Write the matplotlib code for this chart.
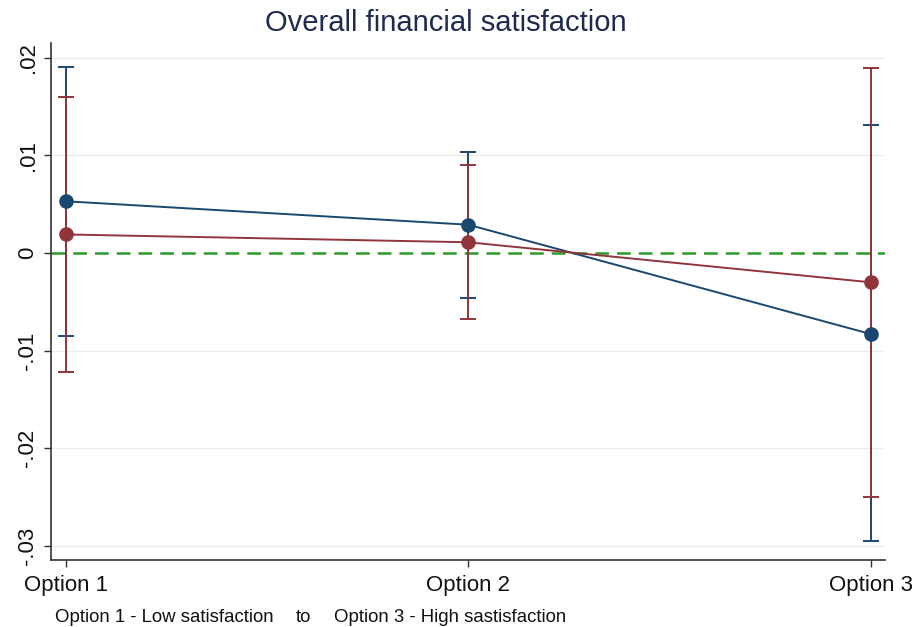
import matplotlib
matplotlib.use("Agg")
import matplotlib.pyplot as plt
import numpy as np

plt.rcParams['font.family'] = ['Liberation Sans', 'DejaVu Sans']

# Data
options = ["Option 1", "Option 2", "Option 3"]
blue_est = [0.0053, 0.0029, -0.0083]
blue_lo = [-0.0085, -0.0046, -0.0295]
blue_hi = [0.0191, 0.0104, 0.0131]
red_est = [0.0019, 0.0011, -0.0030]
red_lo = [-0.0122, -0.0068, -0.0250]
red_hi = [0.0160, 0.0090, 0.0190]
yticks = [0.02, 0.01, 0.0, -0.01, -0.02, -0.03]
ytick_labels = [".02", ".01", "0", "-.01", "-.02", "-.03"]

navy = "#1a476f"
maroon = "#90353b"
green = "#2a9a2a"

W, H = 915, 627
fig = plt.figure(figsize=(W / 100, H / 100), dpi=100)
ax = fig.add_axes([51 / W, 1 - 560 / H, (885 - 51) / W, (560 - 43) / H])

x = np.arange(1, len(options) + 1)

for yv in yticks:
    if yv != 0:
        ax.axhline(yv, color="#ececec", lw=1.0, zorder=0)
ax.axhline(0, color=green, lw=1.8, ls=(0, (5.5, 3.2)), zorder=1)

def ci(est, lo, hi, color, z):
    est = np.array(est)
    yerr = [est - np.array(lo), np.array(hi) - est]
    ax.errorbar(x, est, yerr=yerr, fmt="none", ecolor=color, elinewidth=1.4,
                capsize=5.8, capthick=1.4, zorder=z)

ci(blue_est, blue_lo, blue_hi, navy, 2)
ci(red_est, red_lo, red_hi, maroon, 3)
ax.plot(x, blue_est, color=navy, lw=1.4, marker="o", ms=9.5, zorder=4)
ax.plot(x, red_est, color=maroon, lw=1.4, marker="o", ms=9.5, zorder=5)

ax.set_xlim(1 - 15 / 403, 3 + 14.5 / 403)
ax.set_ylim(-0.03146, 0.02152)
ax.set_xticks(x)
ax.set_xticklabels(options, fontsize=16, color="#111111")
ax.set_yticks(yticks)
ax.set_yticklabels(ytick_labels, fontsize=16, rotation=90, va="center", color="#111111")
ax.tick_params(axis="both", direction="out", length=5, width=1, color="#333333")
ax.tick_params(axis="x", pad=6)
ax.tick_params(axis="y", pad=4)

for side in ["top", "right"]:
    ax.spines[side].set_visible(False)
for side in ["left", "bottom"]:
    ax.spines[side].set_color("#333333")
    ax.spines[side].set_linewidth(1.2)

fig.text(446 / W, 1 - 23 / H, "Overall financial satisfaction", fontsize=21,
         color="#1e2a4e", ha="center", va="center")

fig.text(55 / W, 1 - 617 / H, "Option 1 - Low satisfaction", fontsize=13.4,
         color="#111111", ha="left", va="center")
fig.text(296 / W, 1 - 617 / H, "to", fontsize=13.4, color="#111111",
         ha="left", va="center")
fig.text(334 / W, 1 - 617 / H, "Option 3 - High sastisfaction", fontsize=13.4,
         color="#111111", ha="left", va="center")

fig.savefig("out.png", dpi=100, facecolor="white")
